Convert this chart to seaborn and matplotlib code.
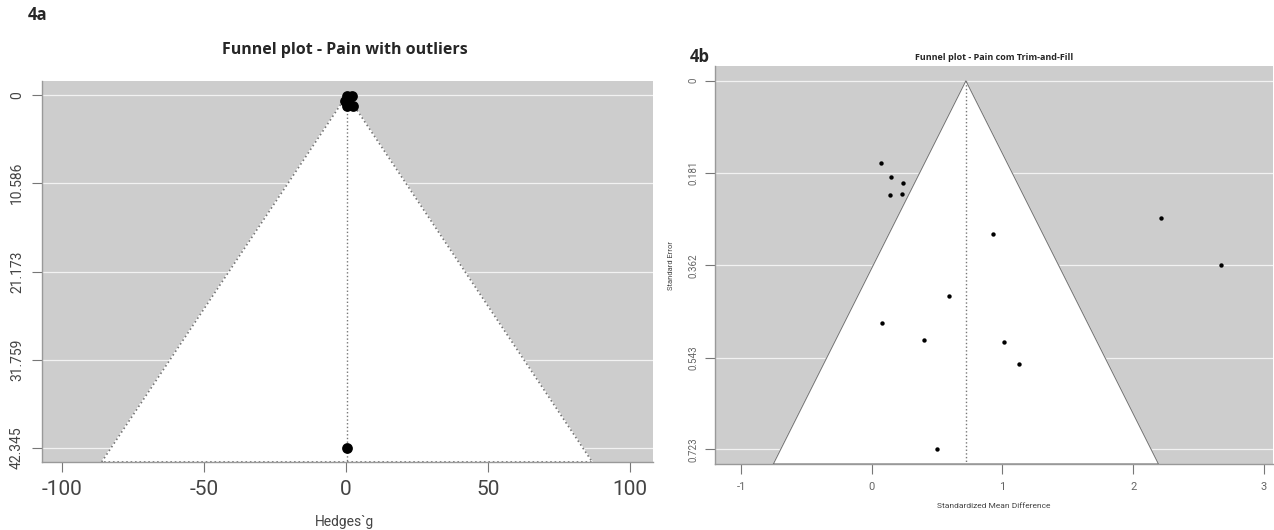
import matplotlib
matplotlib.use("Agg")
import matplotlib.pyplot as plt
import seaborn as sns
import pandas as pd

# 4a - Hedges g, com outliers
g_left = [0.4, 2.1, -0.3, 1.0, 2.5, 0.4, 0.4]
se_left = [0.1, 0.1, 0.7, 1.1, 1.3, 1.3, 42.345]
est_left = 0.3
yt_left = [0, 10.586, 21.173, 31.759, 42.345]
xt_left = [-100, -50, 0, 50, 100]

# 4b - trim-and-fill
smd_right = [0.07, 0.145, 0.24, 0.137, 0.23, 0.93, 2.21, 2.67, 0.59, 0.08, 0.40, 1.01, 1.13, 0.50]
se_right = [0.161, 0.188, 0.200, 0.224, 0.222, 0.300, 0.269, 0.361, 0.422, 0.476, 0.508, 0.512, 0.555, 0.723]
est_right = 0.72
yt_right = [0, 0.181, 0.362, 0.543, 0.723]
xt_right = [-1, 0, 1, 2, 3]

sns.set_style("ticks")
plt.rcParams['font.family'] = ['Roboto', 'DejaVu Sans']

W, H = 1274, 530
fig = plt.figure(figsize=(W / 100, H / 100), dpi=100)


def box(x0, y0, x1, y1):
    return [x0 / W, 1 - y1 / H, (x1 - x0) / W, (y1 - y0) / H]


def funnel(ax, x, se, est, yt, xt, xlim, msize, edge_ls, edge_lw, lab_col):
    ymax = max(yt) * 1.04
    ymin = -max(yt) * 0.04
    ax.set_facecolor('#cdcdcd')
    for t in yt:
        ax.axhline(t, color='#f2f2f2', lw=0.9, zorder=1)
    # funnel area
    xs = [est - 1.96 * ymax, est, est + 1.96 * ymax]
    ys = [ymax, 0, ymax]
    ax.fill(xs, ys, color='white', zorder=2)
    ax.plot(xs + [xs[0]], ys + [ys[0]], color='#777777', ls=edge_ls, lw=edge_lw, zorder=3)
    ax.plot([est, est], [0, ymax], color='#777777', ls=':', lw=1, zorder=3)
    df = pd.DataFrame({'x': x, 'se': se})
    sns.scatterplot(data=df, x='x', y='se', ax=ax, color='black', s=msize,
                    edgecolor='black', linewidth=0, zorder=4, legend=False)
    ax.set_xticks(xt)
    ax.set_xticklabels([str(v) for v in xt])
    ax.set_yticks(yt)
    ax.set_yticklabels([('%g' % t) for t in yt], rotation=90, va='center')
    ax.set_xlim(*xlim)
    ax.set_ylim(ymax, ymin)
    ax.set_xlabel('')
    ax.set_ylabel('')
    for s in ['top', 'right']:
        ax.spines[s].set_visible(False)
    for s in ['left', 'bottom']:
        ax.spines[s].set_color('#999999')
        ax.spines[s].set_linewidth(1)
    ax.tick_params(direction='out', length=7, color='#777777', labelcolor=lab_col)


ax1 = fig.add_axes(box(42, 81, 653, 462))
funnel(ax1, g_left, se_left, est_left, yt_left, xt_left, (-107, 108), 60, ':', 1.2, '#444444')
ax1.tick_params(axis='x', labelsize=15, pad=6)
ax1.tick_params(axis='y', labelsize=10, pad=6)
fig.text(345 / W, 1 - 522 / H, 'Hedges`g', ha='center', va='center', fontsize=10, color='#444444')
fig.text(345 / W, 1 - 50 / H, 'Funnel plot - Pain with outliers', ha='center', va='center',
         fontsize=11.5, fontweight='bold', family=['Open Sans', 'DejaVu Sans'])
fig.text(28 / W, 1 - 15 / H, '4a', ha='left', va='center', fontsize=12, fontweight='bold',
         family=['Open Sans', 'DejaVu Sans'])

ax2 = fig.add_axes(box(715, 66, 1273, 464))
funnel(ax2, smd_right, se_right, est_right, yt_right, xt_right, (-1.2, 3.07), 10, '-', 0.8, '#666666')
ax2.tick_params(axis='x', labelsize=8, pad=6)
ax2.tick_params(axis='y', labelsize=7, pad=5)
ax2.set_xlabel('Standardized Mean Difference', fontsize=6, color='#444444', labelpad=8)
ax2.set_ylabel('Standard Error', fontsize=5.5, color='#444444', labelpad=10)
fig.text(994 / W, 1 - 57 / H, 'Funnel plot - Pain com Trim-and-Fill', ha='center', va='center',
         fontsize=6.5, fontweight='bold', family=['Open Sans', 'DejaVu Sans'])
fig.text(690 / W, 1 - 57 / H, '4b', ha='left', va='center', fontsize=12, fontweight='bold',
         family=['Open Sans', 'DejaVu Sans'])

fig.savefig('out.png', dpi=100)
